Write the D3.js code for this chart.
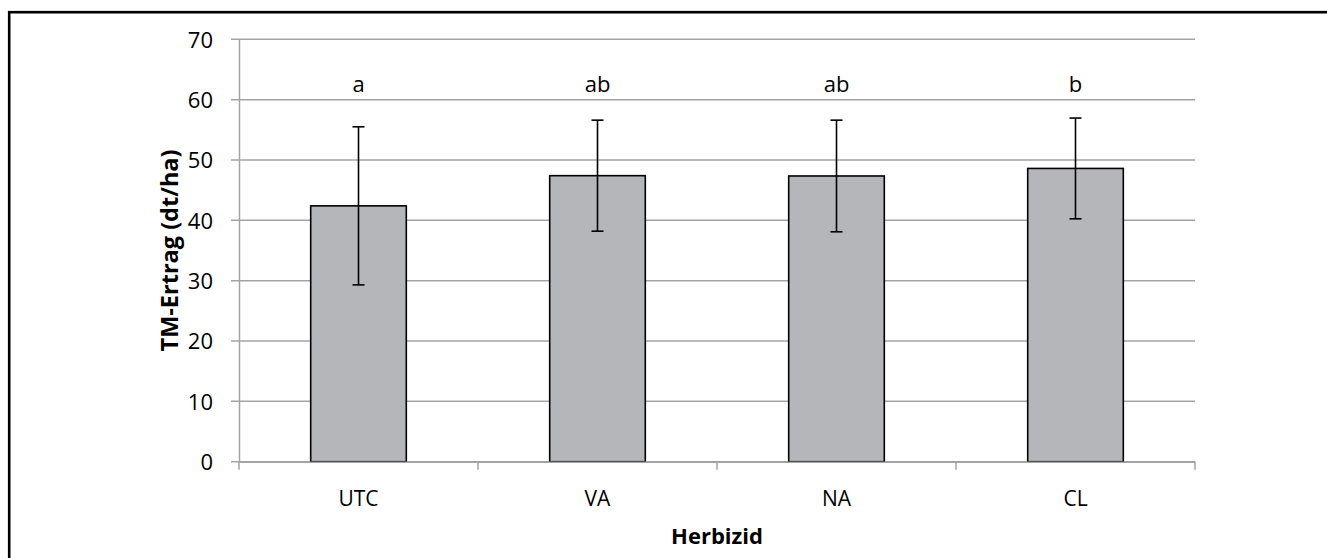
<!DOCTYPE html>
<html>
<head>
<meta charset="utf-8">
<script src="https://cdn.jsdelivr.net/npm/d3@7"></script>
<style>
  body { margin: 0; background: #fff; }
  text { font-family: "Open Sans", Calibri, sans-serif; fill: #000; }
</style>
</head>
<body>
<div id="chart"></div>
<script>
// Herbizid categories and yields
var categories = ["UTC", "VA", "NA", "CL"];
var means = [42.4, 47.4, 47.35, 48.6];
var errors = [13.1, 9.2, 9.25, 8.35];
var letters = ["a", "ab", "ab", "b"];
var yTicks = [0, 10, 20, 30, 40, 50, 60, 70];

var W = 1327, H = 558;
var margin = { top: 39.3, right: 132, bottom: 96.3, left: 239 }
var w = W - margin.left - margin.right
var h = H - margin.top - margin.bottom

var svg = d3.select('#chart').append('svg')
	.attr('width', W)
	.attr('height', H)

// outer frame (runs off right and bottom edges)
svg.append('rect')
	.attr('x', 9.2).attr('y', 12.2)
	.attr('width', W + 20).attr('height', H + 20)
	.attr('fill', 'none')
	.attr('stroke', '#000')
	.attr('stroke-width', 2.6)

var g = svg.append('g')
	.attr('transform', 'translate(' + margin.left + ',' + margin.top + ')')

var x = d3.scaleBand()
	.domain(categories)
	.range([0, w])
	.padding(0)

var y = d3.scaleLinear()
	.domain([0, 70])
	.range([h, 0])

var gridColor = '#a3a3a6'

// gridlines
g.append('g')
	.selectAll('line')
	.data(yTicks)
	.enter().append('line')
	.attr('x1', -8).attr('x2', w)
	.attr('y1', function (d) { return y(d) }).attr('y2', function (d) { return y(d) })
	.attr('stroke', gridColor)
	.attr('stroke-width', 1.5)

// y axis
var yAxis = g.append('g')
	.call(d3.axisLeft(y).tickValues(yTicks).tickSize(0).tickPadding(26))
yAxis.select('.domain').attr('stroke', gridColor).attr('stroke-width', 1.5)
yAxis.selectAll('text').style('font-size', '22px').attr('dy', '0.35em')

// bars
var barW = x.bandwidth() * 0.4
g.append('g')
	.selectAll('rect')
	.data(categories)
	.enter().append('rect')
	.attr('x', function (d) { return x(d) + (x.bandwidth() - barW) / 2 })
	.attr('y', function (d, i) { return y(means[i]) })
	.attr('width', barW)
	.attr('height', function (d, i) { return y(0) - y(means[i]) })
	.attr('fill', '#b4b6b9')
	.attr('stroke', '#000')
	.attr('stroke-width', 1.6)

// x axis
var xAxis = g.append('g')
	.attr('transform', 'translate(0,' + h + ')')
	.call(d3.axisBottom(x).tickSize(0).tickPadding(29))
xAxis.select('.domain').attr('stroke', gridColor).attr('stroke-width', 1.5)
xAxis.selectAll('text').style('font-size', '21px')
g.append('g')
	.selectAll('line')
	.data(d3.range(categories.length + 1))
	.enter().append('line')
	.attr('x1', function (d) { return d * x.bandwidth() }).attr('x2', function (d) { return d * x.bandwidth() })
	.attr('y1', h).attr('y2', h + 8)
	.attr('stroke', gridColor)
	.attr('stroke-width', 1.5)

// error bars
var eb = g.append('g')
	.selectAll('g')
	.data(categories)
	.enter().append('g')
	.attr('stroke', '#000')
	.attr('stroke-width', 1.6)
eb.append('line')
	.attr('x1', function (d) { return x(d) + x.bandwidth() / 2 })
	.attr('x2', function (d) { return x(d) + x.bandwidth() / 2 })
	.attr('y1', function (d, i) { return y(means[i] + errors[i]) })
	.attr('y2', function (d, i) { return y(means[i] - errors[i]) })
eb.selectAll('.cap')
	.data(function (d, i) { return [[d, means[i] + errors[i]], [d, means[i] - errors[i]]] })
	.enter().append('line')
	.attr('class', 'cap')
	.attr('x1', function (d) { return x(d[0]) + x.bandwidth() / 2 - 6 })
	.attr('x2', function (d) { return x(d[0]) + x.bandwidth() / 2 + 6 })
	.attr('y1', function (d) { return y(d[1]) })
	.attr('y2', function (d) { return y(d[1]) })

// significance letters
g.append('g')
	.selectAll('text')
	.data(categories)
	.enter().append('text')
	.attr('x', function (d) { return x(d) + x.bandwidth() / 2 })
	.attr('y', y(60) - 8)
	.attr('text-anchor', 'middle')
	.style('font-size', '22px')
	.text(function (d, i) { return letters[i] })

// axis titles
svg.append('text')
	.attr('x', margin.left + w / 2)
	.attr('y', 544)
	.attr('text-anchor', 'middle')
	.style('font-size', '22px')
	.style('font-weight', 'bold')
	.text('Herbizid')

svg.append('text')
	.attr('transform', 'translate(178,' + (margin.top + y(35)) + ') rotate(-90)')
	.attr('text-anchor', 'middle')
	.style('font-size', '23.5px')
	.style('font-weight', 'bold')
	.text('TM-Ertrag (dt/ha)')
</script>
</body>
</html>
